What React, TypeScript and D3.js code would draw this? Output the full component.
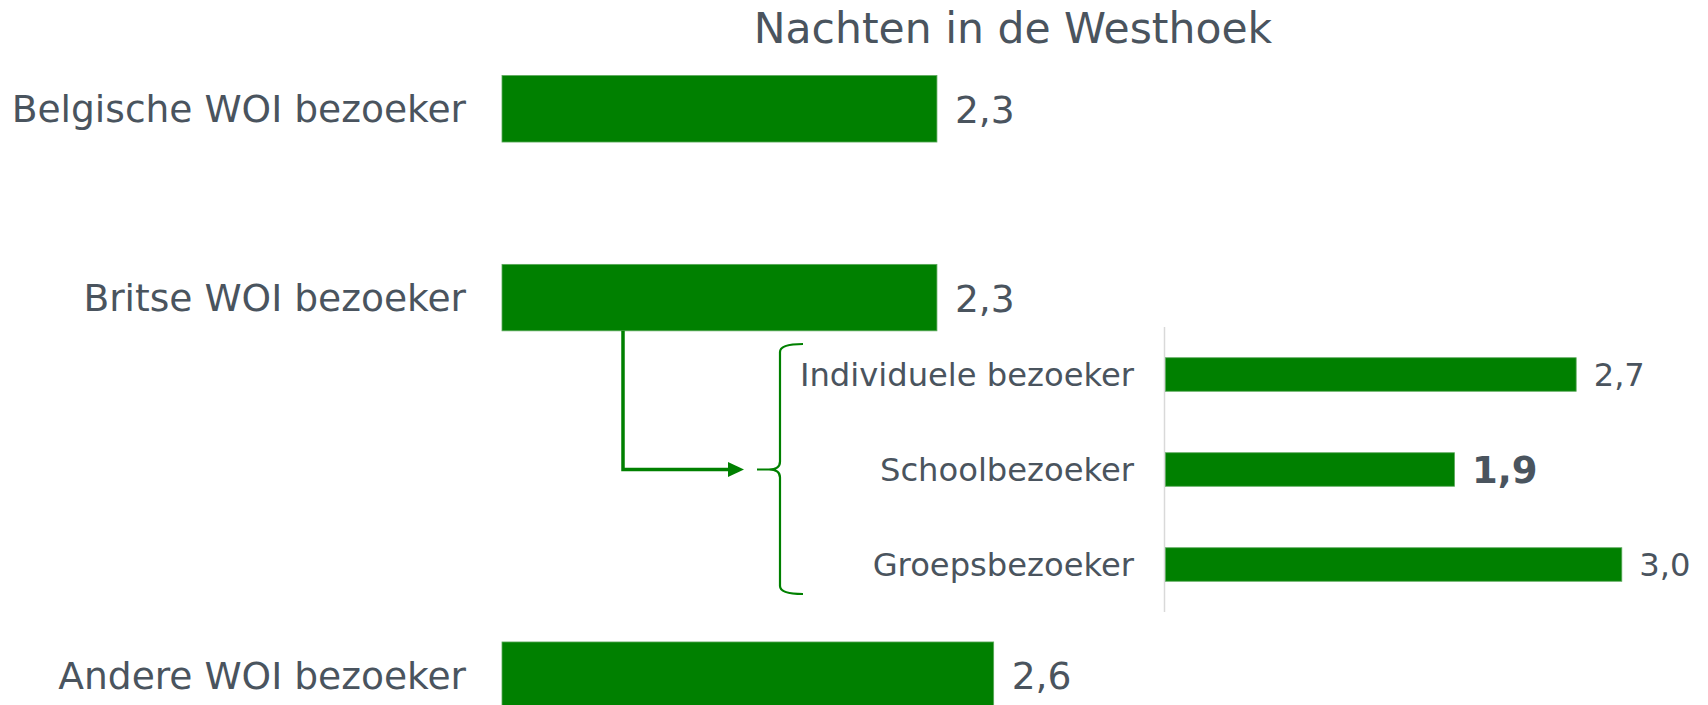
import React from "react";
import * as d3 from "d3";

const title = "Nachten in de Westhoek";
const mainCategories = ["Belgische WOI bezoeker", "Britse WOI bezoeker", "Andere WOI bezoeker"];
const mainValues = [2.3, 2.3, 2.6];
const subCategories = ["Individuele bezoeker", "Schoolbezoeker", "Groepsbezoeker"];
const subValues = [2.7, 1.9, 3.0];
const subHighlight = [false, true, false];

const W = 1708;
const H = 705;
const GREEN = "#008000";
const TEXT = "#4a545e";
const FONT = "'DejaVu Sans', Verdana, sans-serif";

const fmt = (v: number) => d3.format(".1f")(v).replace(".", ",");

export default function App() {
  const mainY = d3
    .scaleBand<string>()
    .domain([mainCategories[0], mainCategories[1], "__gap__", mainCategories[2]])
    .range([14.4, 769.6])
    .paddingInner(0.648)
    .paddingOuter(0.324);
  const mainX = d3.scaleLinear().domain([0, 3]).range([502, 502 + 3 * 189.1]);

  const subY = d3
    .scaleBand<string>()
    .domain(subCategories)
    .range([327, 612])
    .paddingInner(0.647)
    .paddingOuter(0.3235);
  const subX = d3.scaleLinear().domain([0, 3]).range([1165.5, 1165.5 + 3 * 152.1]);

  const britse = mainCategories[1];
  const britseBottom = (mainY(britse) ?? 0) + mainY.bandwidth();
  const schoolMid = (subY(subCategories[1]) ?? 0) + subY.bandwidth() / 2;
  const connX = 623;
  const arrowTip = 744;

  const braceX = 780;
  const braceTop = 344;
  const braceBottom = 594;
  const braceRight = 803;
  const braceTip = 757;
  const m = schoolMid;
  const bracePath = [
    `M ${braceRight},${braceTop}`,
    `Q ${braceX},${braceTop} ${braceX},${braceTop + 8}`,
    `L ${braceX},${m - 8}`,
    `Q ${braceX},${m} ${braceTip + 12},${m}`,
    `L ${braceTip},${m}`,
    `M ${braceTip + 12},${m}`,
    `Q ${braceX},${m} ${braceX},${m + 8}`,
    `L ${braceX},${braceBottom - 8}`,
    `Q ${braceX},${braceBottom} ${braceRight},${braceBottom}`,
  ].join(" ");

  return (
    <svg
      width={W}
      height={H}
      style={{ position: "absolute", left: 0, top: 0, display: "block", background: "#fff" }}
      fontFamily={FONT}
    >
      <text x={1013} y={43} textAnchor="middle" fontSize={42.5} fill={TEXT}>
        {title}
      </text>

      {mainCategories.map((c, i) => {
        const y = mainY(c) ?? 0;
        const bw = mainY.bandwidth();
        return (
          <g key={c}>
            <rect
              x={mainX(0)}
              y={y}
              width={mainX(mainValues[i]) - mainX(0)}
              height={bw}
              fill={GREEN}
              stroke="#5aa85a"
              strokeWidth={0.8}
            />
            <text x={466} y={y + bw / 2} dy="0.36em" textAnchor="end" fontSize={37.6} fill={TEXT}>
              {c}
            </text>
            <text x={mainX(mainValues[i]) + 18} y={y + bw / 2} dy="0.38em" fontSize={37.6} fill={TEXT}>
              {fmt(mainValues[i])}
            </text>
          </g>
        );
      })}

      {/* sub chart axis */}
      <line x1={subX(0) - 1} x2={subX(0) - 1} y1={327} y2={612} stroke="#d9d9d9" strokeWidth={1.5} />

      {subCategories.map((c, i) => {
        const y = subY(c) ?? 0;
        const bw = subY.bandwidth();
        return (
          <g key={c}>
            <rect
              x={subX(0)}
              y={y}
              width={subX(subValues[i]) - subX(0)}
              height={bw}
              fill={GREEN}
              stroke="#5aa85a"
              strokeWidth={0.8}
            />
            <text x={1134} y={y + bw / 2} dy="0.36em" textAnchor="end" fontSize={32.2} fill={TEXT}>
              {c}
            </text>
            <text
              x={subX(subValues[i]) + 17.5}
              y={y + bw / 2}
              dy="0.37em"
              fontSize={subHighlight[i] ? 37 : 32.2}
              fontWeight={subHighlight[i] ? "bold" : "normal"}
              fill={TEXT}
            >
              {fmt(subValues[i])}
            </text>
          </g>
        );
      })}

      {/* connector arrow */}
      <path
        d={`M ${connX},${britseBottom} L ${connX},${schoolMid} L ${arrowTip - 15},${schoolMid}`}
        fill="none"
        stroke={GREEN}
        strokeWidth={3.5}
      />
      <path
        d={`M ${arrowTip - 16},${schoolMid - 7.5} L ${arrowTip},${schoolMid} L ${arrowTip - 16},${schoolMid + 7.5} Z`}
        fill={GREEN}
      />

      {/* brace */}
      <path d={bracePath} fill="none" stroke={GREEN} strokeWidth={2.2} />
    </svg>
  );
}
